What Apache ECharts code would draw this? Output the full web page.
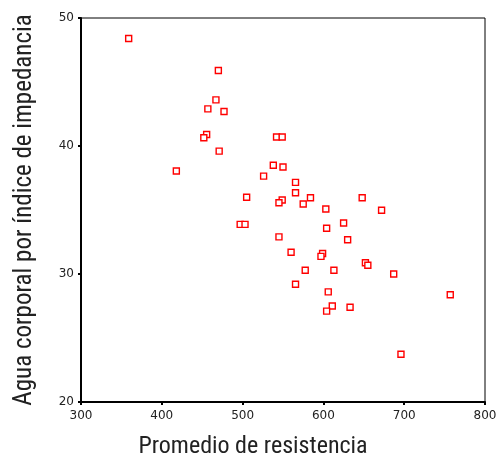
<!DOCTYPE html>
<html><head><meta charset="utf-8">
<script src="https://cdn.jsdelivr.net/npm/echarts@6/dist/echarts.min.js"></script>
<style>html,body{margin:0;padding:0;background:#fff}#c{width:497px;height:458px}</style>
</head><body><div id="c"></div>
<script>
const resistencia = [359,470,467,457,477,455.5,452,471,542,549,418,538,550,526,505,565.5,565.5,584,549,545,575,648,603,672,497,503,604,625,545,630,560,599,597,652,655,577.5,613,687,565.5,606,611,604,633,757,696];
const agua = [48.4,45.9,43.6,42.9,42.7,40.9,40.65,39.6,40.7,40.7,38.05,38.5,38.36,37.65,36.0,37.16,36.35,35.96,35.78,35.57,35.47,35.96,35.08,34.98,33.88,33.88,33.57,33.98,32.9,32.68,31.7,31.6,31.38,30.88,30.68,30.29,30.29,30.0,29.2,28.6,27.5,27.1,27.4,28.38,23.73];
const xTitle = 'Promedio de resistencia';
const yTitle = 'Agua corporal por índice de impedancia';
const pts = resistencia.map((v,i)=>[v, agua[i]]);
const chart = echarts.init(document.getElementById('c'), null, {renderer:'canvas'});
const titleFont = '"Liberation Sans Narrow", "Roboto Condensed", "Liberation Sans", sans-serif';
chart.setOption({
  animation:false,
  grid:{left:81,right:12,top:18,bottom:56,containLabel:false,outerBoundsMode:'none',show:true,borderColor:'#000',borderWidth:1,backgroundColor:'#fff'},
  xAxis:{type:'value',min:300,max:800,interval:100,
    name:xTitle,nameLocation:'middle',nameGap:33,
    nameTextStyle:{fontFamily:titleFont,fontSize:24,color:'#222',padding:[0,60,0,0]},
    axisLine:{lineStyle:{color:'#000',width:2}},
    axisTick:{show:true,length:3,lineStyle:{color:'#000',width:2}},
    axisLabel:{fontFamily:'"DejaVu Sans", sans-serif',fontSize:12,color:'#222',margin:8},
    splitLine:{show:false}},
  yAxis:{type:'value',min:20,max:50,interval:10,
    name:yTitle,nameLocation:'middle',nameGap:44,
    nameTextStyle:{fontFamily:titleFont,fontSize:25,color:'#222'},
    axisLine:{lineStyle:{color:'#000',width:2}},
    axisTick:{show:true,length:3,lineStyle:{color:'#000',width:2}},
    axisLabel:{fontFamily:'"DejaVu Sans", sans-serif',fontSize:12,color:'#222',margin:7},
    splitLine:{show:false}},
  series:[{type:'scatter',data:pts,symbol:'rect',symbolSize:6,
    itemStyle:{color:'#fff',borderColor:'#ff0000',borderWidth:1.4,opacity:1}}]
});
</script></body></html>
